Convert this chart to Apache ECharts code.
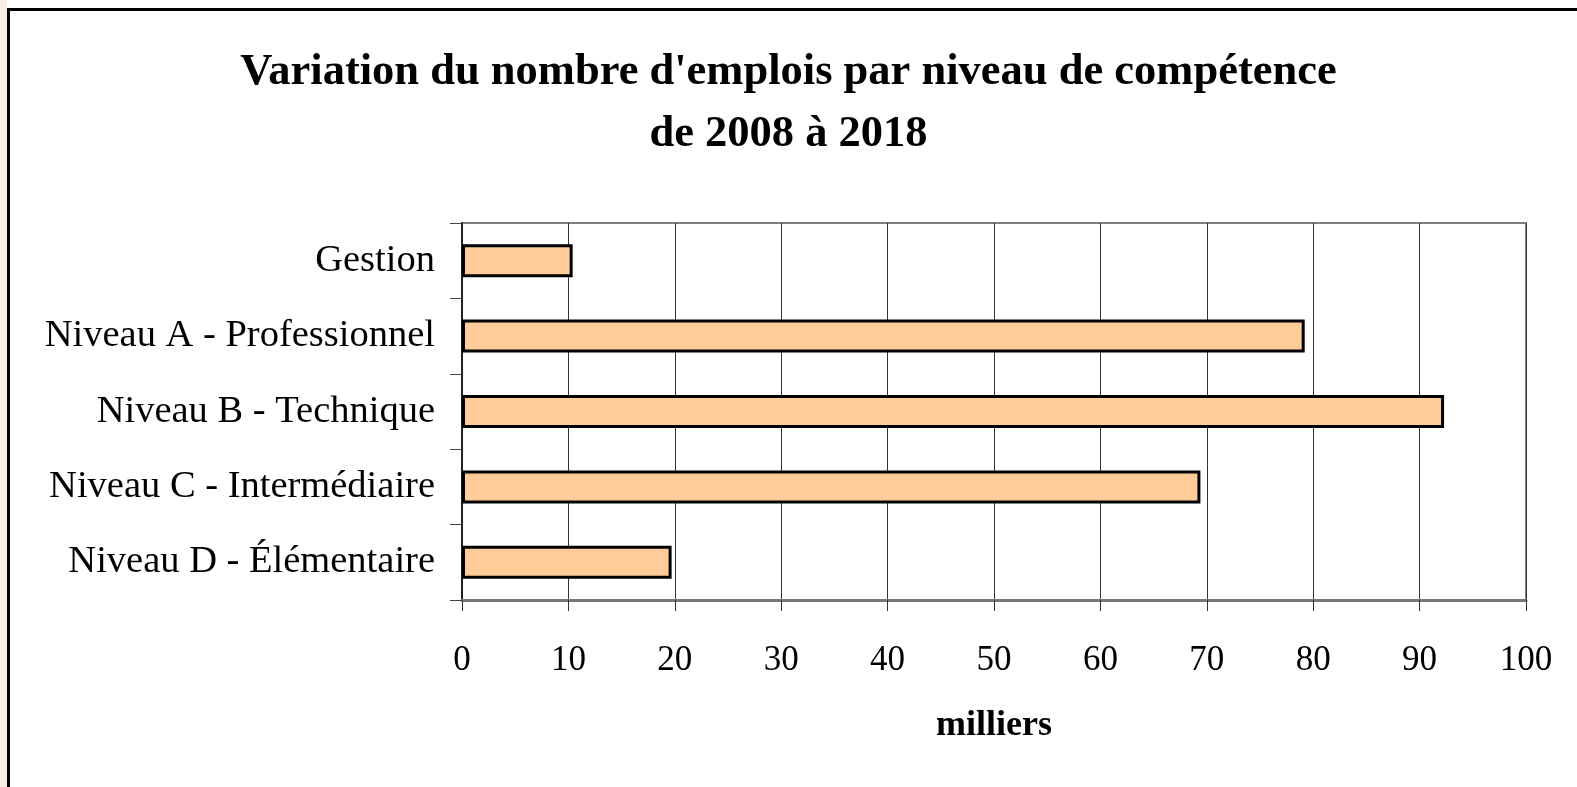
<!DOCTYPE html>
<html><head><meta charset="utf-8">
<script src="https://cdn.jsdelivr.net/npm/echarts@6/dist/echarts.min.js"></script>
<style>html,body{margin:0;padding:0;background:#fff;}#c{width:1577px;height:787px;}</style>
</head><body><div id="c"></div>
<script>
const categories = ["Gestion", "Niveau A - Professionnel", "Niveau B - Technique", "Niveau C - Intermédiaire", "Niveau D - Élémentaire"];
const values = [10.4, 79.2, 92.3, 69.4, 19.7];
const titleText = "Variation du nombre d'emplois par niveau de compétence\nde 2008 à 2018";
const xAxisName = "milliers";

const chart = echarts.init(document.getElementById('c'));
const serif = "'Liberation Serif', 'Times New Roman', serif";
chart.setOption({
  animation: false,
  backgroundColor: '#fff',
  title: {
    text: titleText, left: 'center', top: 36,
    textStyle: { fontFamily: serif, fontWeight: 'bold', fontSize: 44.5, lineHeight: 62, color: '#000' }
  },
  graphic: [
    { type: 'rect', shape: { x: 0, y: 0, width: 7, height: 787 }, style: { fill: '#f6eedf' }, z: -1 },
    { type: 'rect', shape: { x: 8.5, y: 9.5, width: 1600, height: 800 }, style: { fill: 'none', stroke: '#000', lineWidth: 3 } }
  ],
  grid: { left: 462, top: 223, right: 51, bottom: 187, show: true, borderColor: '#808080', borderWidth: 2 },
  xAxis: {
    type: 'value', min: 0, max: 100, interval: 10,
    name: xAxisName, nameLocation: 'middle', nameGap: 108,
    nameTextStyle: { fontFamily: serif, fontWeight: 'bold', fontSize: 36, color: '#000' },
    axisLine: { show: true, lineStyle: { color: '#777', width: 3 } },
    axisTick: { show: true, length: 11, lineStyle: { color: '#333', width: 1 } },
    axisLabel: { fontFamily: serif, fontSize: 35, color: '#000', margin: 43 },
    splitLine: { show: true, lineStyle: { color: '#333', width: 1 } }
  },
  yAxis: {
    type: 'category', data: categories, inverse: true,
    axisLine: { show: true, lineStyle: { color: '#222', width: 2 } },
    axisTick: { show: true, length: 12, lineStyle: { color: '#444', width: 1 } },
    axisLabel: { fontFamily: serif, fontSize: 38.5, color: '#000', margin: 27, padding: [9, 0, 0, 0] },
    splitLine: { show: false }
  },
  series: [{
    type: 'bar', data: values, barWidth: 33,
    itemStyle: { color: '#FFCC99', borderColor: '#000', borderWidth: 3 }
  }]
});
</script></body></html>
